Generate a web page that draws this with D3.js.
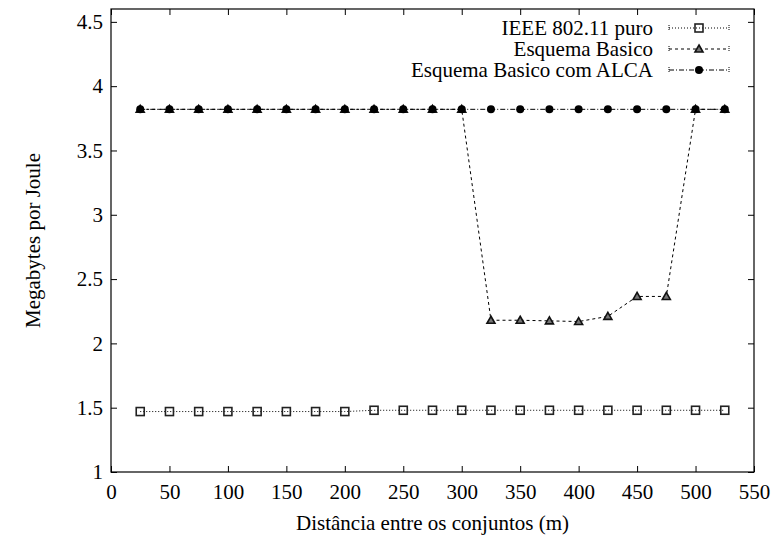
<!DOCTYPE html>
<html>
<head>
<meta charset="utf-8">
<script src="https://cdn.jsdelivr.net/npm/d3@7"></script>
<style>
  html, body { margin: 0; padding: 0; background: #fff; }
  svg { display: block; }
</style>
</head>
<body>
<svg id="chart" width="775" height="542"></svg>
<script>
// ---- data ----
const distances = [25, 50, 75, 100, 125, 150, 175, 200, 225, 250, 275, 300, 325, 350, 375, 400, 425, 450, 475, 500, 525];
const ieeePuro = [1.47, 1.47, 1.47, 1.47, 1.47, 1.47, 1.47, 1.47, 1.48, 1.48, 1.48, 1.48, 1.48, 1.48, 1.48, 1.48, 1.48, 1.48, 1.48, 1.48, 1.48];
const esquemaBasico = [3.82, 3.82, 3.82, 3.82, 3.82, 3.82, 3.82, 3.82, 3.82, 3.82, 3.82, 3.82, 2.18, 2.18, 2.175, 2.17, 2.21, 2.365, 2.365, 3.82, 3.82];
const esquemaAlca = [3.82, 3.82, 3.82, 3.82, 3.82, 3.82, 3.82, 3.82, 3.82, 3.82, 3.82, 3.82, 3.82, 3.82, 3.82, 3.82, 3.82, 3.82, 3.82, 3.82, 3.82];
const seriesNames = ["IEEE 802.11 puro", "Esquema Basico", "Esquema Basico com ALCA"];
const xTicks = [0, 50, 100, 150, 200, 250, 300, 350, 400, 450, 500, 550];
const yTicks = [1, 1.5, 2, 2.5, 3, 3.5, 4, 4.5];
const xTitle = "Distância entre os conjuntos (m)";
const yTitle = "Megabytes por Joule";

// ---- layout ----
const FONT = '"Liberation Serif", "Times New Roman", "DejaVu Serif", serif';
const L = 111, R = 754, T = 9, B = 472;
const svg = d3.select("#chart");
const x = d3.scaleLinear().domain([0, 550]).range([L, R]);
const y = d3.scaleLinear().domain([1, 4.6]).range([B, T]);
const fs = 21;

const tickLen = 6;
const gx = svg.append("g").attr("transform", `translate(0,${B})`)
  .call(d3.axisBottom(x).tickValues(xTicks).tickSize(-tickLen).tickPadding(12).tickFormat(d3.format("d")));
const gxTop = svg.append("g").attr("transform", `translate(0,${T})`)
  .call(d3.axisTop(x).tickValues(xTicks).tickSize(-tickLen).tickFormat(""));
const gy = svg.append("g").attr("transform", `translate(${L},0)`)
  .call(d3.axisLeft(y).tickValues(yTicks).tickSize(-tickLen).tickPadding(8).tickFormat(d => String(d)));
const gyR = svg.append("g").attr("transform", `translate(${R},0)`)
  .call(d3.axisRight(y).tickValues(yTicks).tickSize(-tickLen).tickFormat(""));
[gx, gxTop, gy, gyR].forEach(g => {
  g.attr("font-family", null).attr("font-size", null);
  g.select(".domain").remove();
  g.selectAll(".tick line").attr("stroke", "#000").attr("stroke-width", 1);
  g.selectAll(".tick text").attr("fill", "#000");
});

// frame
svg.append("rect").attr("x", L).attr("y", T).attr("width", R - L).attr("height", B - T)
  .attr("fill", "none").attr("stroke", "#000").attr("stroke-width", 1.2);

// titles
svg.append("text").attr("x", (L + R) / 2).attr("y", 530).attr("text-anchor", "middle").text(xTitle);
svg.append("text").attr("transform", `translate(40,${(T + B) / 2}) rotate(-90)`)
  .attr("text-anchor", "middle").text(yTitle);

// series
const series = [
  { name: seriesNames[0], values: ieeePuro, dash: "1,2", marker: "square" },
  { name: seriesNames[1], values: esquemaBasico, dash: "3,3", marker: "triangle" },
  { name: seriesNames[2], values: esquemaAlca, dash: "5,2,1,2", marker: "circle" }
];
const line = d3.line().x(d => x(d[0])).y(d => y(d[1]));

function drawMarker(g, type, cx, cy) {
  if (type === "square") {
    g.append("rect").attr("x", cx - 4).attr("y", cy - 4).attr("width", 8).attr("height", 8)
      .attr("fill", "none").attr("stroke", "#222").attr("stroke-width", 1.6);
  } else if (type === "triangle") {
    const s = 4;
    g.append("path").attr("d", `M${cx},${cy - s} L${cx + s},${cy + s * 0.75} L${cx - s},${cy + s * 0.75} Z`)
      .attr("fill", "#777").attr("stroke", "#111").attr("stroke-width", 1.6);
  } else {
    g.append("circle").attr("cx", cx).attr("cy", cy).attr("r", 4).attr("fill", "#000");
  }
}

series.forEach(s => {
  const pts = distances.map((d, i) => [d, s.values[i]]);
  const g = svg.append("g");
  g.append("path").attr("d", line(pts)).attr("fill", "none").attr("stroke", "#000")
    .attr("stroke-width", 1).attr("stroke-dasharray", s.dash);
  pts.forEach(p => drawMarker(g, s.marker, x(p[0]), y(p[1])));
});

// legend
const legRows = [28, 49, 70];
series.forEach((s, i) => {
  const yy = legRows[i];
  svg.append("text").attr("x", 653).attr("y", yy).attr("dy", "0.33em").attr("text-anchor", "end").text(s.name);
  const g = svg.append("g");
  g.append("line").attr("x1", 669).attr("x2", 729).attr("y1", yy).attr("y2", yy)
    .attr("stroke", "#000").attr("stroke-width", 1).attr("stroke-dasharray", s.dash);
  [669, 729].forEach(xx => g.append("line").attr("x1", xx).attr("x2", xx).attr("y1", yy - 3).attr("y2", yy + 3)
    .attr("stroke", "#000").attr("stroke-width", 1).attr("stroke-dasharray", "1,1"));
  drawMarker(g, s.marker, 699, yy);
});

svg.selectAll("text").style("font-family", FONT).style("font-size", fs + "px").style("fill", "#000");
</script>
</body>
</html>
